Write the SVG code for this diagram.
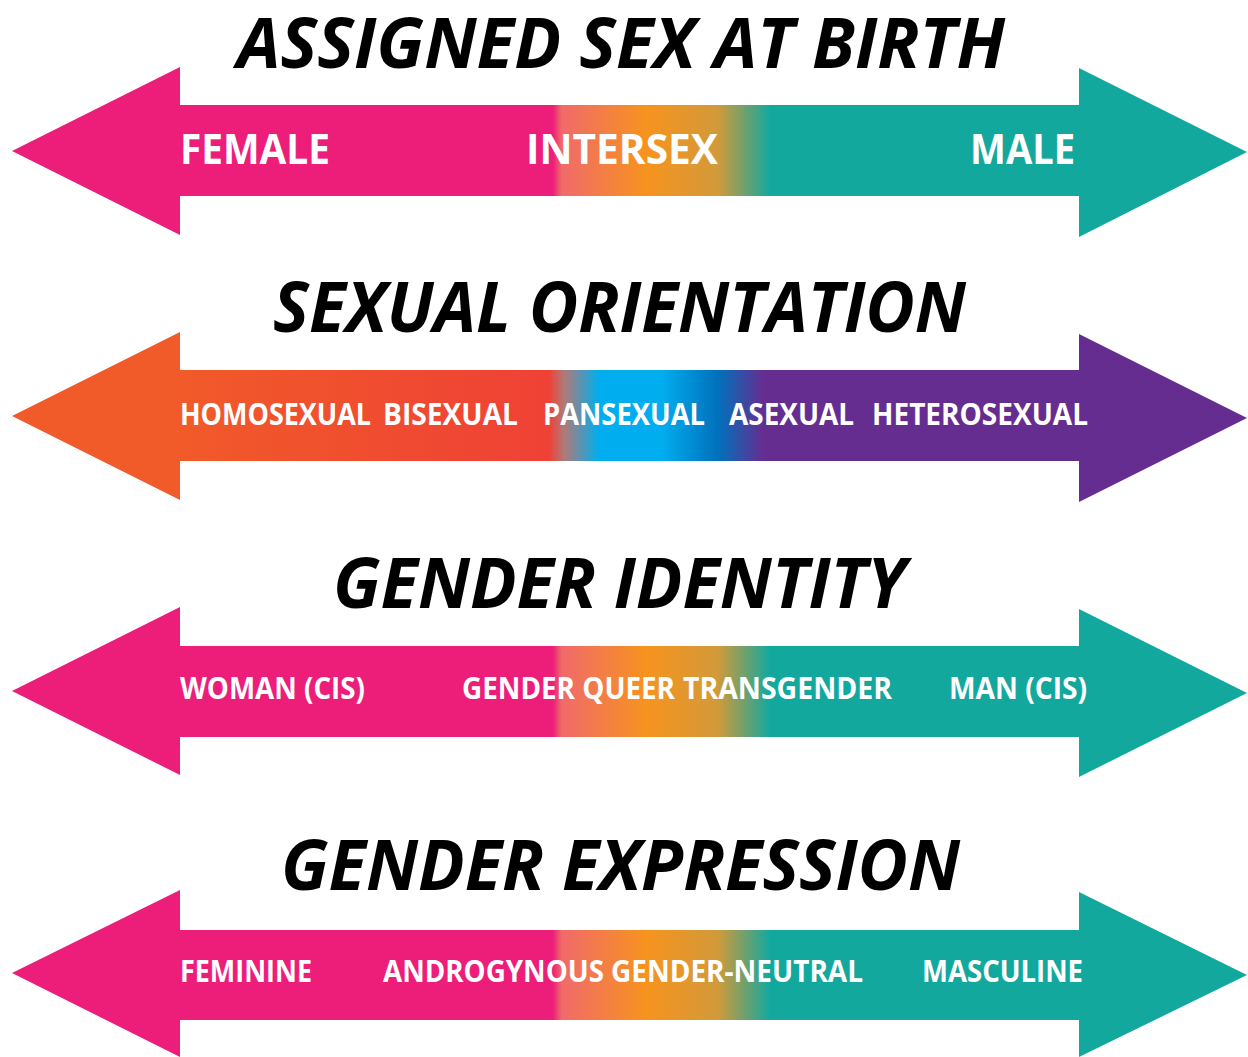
<svg xmlns="http://www.w3.org/2000/svg" width="1248" height="1057" viewBox="0 0 1248 1057">
<style>
.title{font-family:"Open Sans","DejaVu Sans",sans-serif;font-weight:700;font-style:italic;font-size:70px;fill:#000}
.big{font-family:"Open Sans","DejaVu Sans",sans-serif;font-weight:700;font-size:42px;fill:#fff}
.lab{font-family:"Open Sans","DejaVu Sans",sans-serif;font-weight:700;font-size:30px;fill:#fff}
</style>
<defs>
<linearGradient id="gSex" gradientUnits="userSpaceOnUse" x1="0" y1="0" x2="1248" y2="0">
<stop offset="0" stop-color="#ED1E79"/>
<stop offset="0.443" stop-color="#ED1E79"/>
<stop offset="0.450" stop-color="#F06A6A"/>
<stop offset="0.518" stop-color="#F7931E"/>
<stop offset="0.575" stop-color="#D29A3A"/>
<stop offset="0.617" stop-color="#13A89E"/>
<stop offset="1" stop-color="#13A89E"/>
</linearGradient>
<linearGradient id="gOri" gradientUnits="userSpaceOnUse" x1="0" y1="0" x2="1248" y2="0">
<stop offset="0" stop-color="#F15A29"/>
<stop offset="0.144" stop-color="#F15A29"/>
<stop offset="0.44" stop-color="#EF4136"/>
<stop offset="0.452" stop-color="#B07A78"/>
<stop offset="0.48" stop-color="#00AEEF"/>
<stop offset="0.53" stop-color="#00AEEF"/>
<stop offset="0.575" stop-color="#0071BC"/>
<stop offset="0.612" stop-color="#662D91"/>
<stop offset="1" stop-color="#662D91"/>
</linearGradient>
</defs>
<g id="arrow-sex">
<polygon fill="url(#gSex)" points="12,151 180,67 180,105 1079,105 1079,68 1247,152 1079,237 1079,196 180,196 180,235"/>
</g>
<g id="arrow-orientation">
<polygon fill="url(#gOri)" points="12,416 180,332 180,370 1079,370 1079,334 1247,418 1079,502 1079,461 180,461 180,500"/>
</g>
<g id="arrow-identity">
<polygon fill="url(#gSex)" points="12,691 180,607 180,646 1079,646 1079,609 1247,693 1079,777 1079,737 180,737 180,775"/>
</g>
<g id="arrow-expression">
<polygon fill="url(#gSex)" points="12,973 180,890 180,930 1079,930 1079,892 1247,975 1079,1057 1079,1020 180,1020 180,1057"/>
</g>
<g id="titles">
<text class="title" x="237" y="68" textLength="768" lengthAdjust="spacingAndGlyphs">ASSIGNED SEX AT BIRTH</text>
<text class="title" x="273" y="332" textLength="693" lengthAdjust="spacingAndGlyphs">SEXUAL ORIENTATION</text>
<text class="title" x="333" y="608" textLength="573" lengthAdjust="spacingAndGlyphs">GENDER IDENTITY</text>
<text class="title" x="281" y="890" textLength="679" lengthAdjust="spacingAndGlyphs">GENDER EXPRESSION</text>
</g>
<g id="labels-sex">
<text class="big" x="180" y="164" textLength="150" lengthAdjust="spacingAndGlyphs">FEMALE</text>
<text class="big" x="526" y="164" textLength="192" lengthAdjust="spacingAndGlyphs">INTERSEX</text>
<text class="big" x="970" y="164" textLength="105" lengthAdjust="spacingAndGlyphs">MALE</text>
</g>
<g id="labels-orientation">
<text class="lab" x="180" y="425" textLength="191" lengthAdjust="spacingAndGlyphs">HOMOSEXUAL</text>
<text class="lab" x="383" y="425" textLength="135" lengthAdjust="spacingAndGlyphs">BISEXUAL</text>
<text class="lab" x="543" y="425" textLength="162" lengthAdjust="spacingAndGlyphs">PANSEXUAL</text>
<text class="lab" x="729" y="425" textLength="125" lengthAdjust="spacingAndGlyphs">ASEXUAL</text>
<text class="lab" x="872" y="425" textLength="216" lengthAdjust="spacingAndGlyphs">HETEROSEXUAL</text>
</g>
<g id="labels-identity">
<text class="lab" x="180" y="699" textLength="185" lengthAdjust="spacingAndGlyphs">WOMAN (CIS)</text>
<text class="lab" x="462" y="699" textLength="213" lengthAdjust="spacingAndGlyphs">GENDER QUEER</text>
<text class="lab" x="683" y="699" textLength="209" lengthAdjust="spacingAndGlyphs">TRANSGENDER</text>
<text class="lab" x="949" y="699" textLength="138" lengthAdjust="spacingAndGlyphs">MAN (CIS)</text>
</g>
<g id="labels-expression">
<text class="lab" x="180" y="982" textLength="132" lengthAdjust="spacingAndGlyphs">FEMININE</text>
<text class="lab" x="383" y="982" textLength="221" lengthAdjust="spacingAndGlyphs">ANDROGYNOUS</text>
<text class="lab" x="611" y="982" textLength="252" lengthAdjust="spacingAndGlyphs">GENDER-NEUTRAL</text>
<text class="lab" x="922" y="982" textLength="161" lengthAdjust="spacingAndGlyphs">MASCULINE</text>
</g>
</svg>
